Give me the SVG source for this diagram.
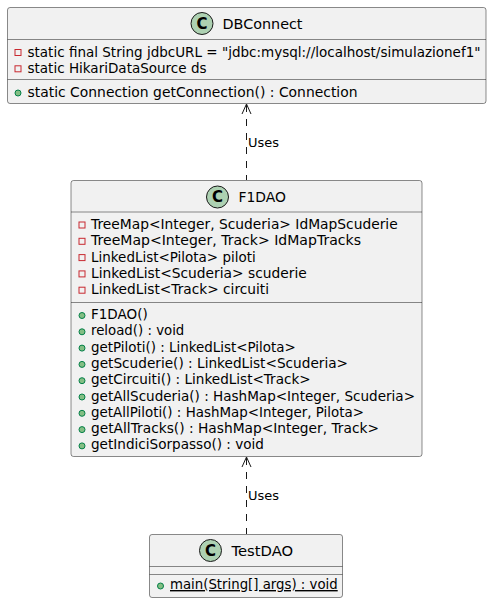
<svg xmlns="http://www.w3.org/2000/svg" width="492" height="604" viewBox="0 0 492 604">
<defs>
<style>
.box{fill:#F1F1F1;stroke:#181818;stroke-width:0.5}
.sep{stroke:#181818;stroke-width:0.5}
.circ{fill:#ADD1B2;stroke:#181818;stroke-width:1}
.cl{font-family:"DejaVu Sans",sans-serif;font-size:15px;font-weight:bold;fill:#000;text-anchor:middle}
.title{font-family:"DejaVu Sans",sans-serif;font-size:14px;fill:#000}
.mem{font-family:"DejaVu Sans",sans-serif;font-size:14px;fill:#000}
.lbl{font-family:"DejaVu Sans",sans-serif;font-size:13px;fill:#000}
.priv{fill:none;stroke:#C82930;stroke-width:1}
.pub{fill:#84BE84;stroke:#038048;stroke-width:1}
.edge{stroke:#181818;stroke-width:1;fill:none;stroke-dasharray:7,7}
.head{stroke:#181818;stroke-width:1;fill:none}
</style>
</defs>
<g id="DBConnect">
<rect class="box" x="7.5" y="7.5" width="478.5" height="96" rx="2.5"/>
<circle class="circ" cx="202" cy="23.5" r="11"/>
<text class="cl" x="202" y="28.8">C</text>
<text class="title" x="222.5" y="28.5" textLength="80" lengthAdjust="spacingAndGlyphs">DBConnect</text>
<line class="sep" x1="7.5" y1="39.5" x2="486" y2="39.5"/>
<rect class="priv" x="15" y="49.5" width="6" height="6"/>
<text class="mem" x="27.5" y="56.5" style="font-size:13.3px" textLength="453" lengthAdjust="spacingAndGlyphs">static final String jdbcURL = "jdbc:mysql://localhost/simulazionef1"</text>
<rect class="priv" x="15" y="65.8" width="6" height="6"/>
<text class="mem" x="27.5" y="72.8" textLength="179" lengthAdjust="spacingAndGlyphs">static HikariDataSource ds</text>
<line class="sep" x1="7.5" y1="79.5" x2="486" y2="79.5"/>
<circle class="pub" cx="18" cy="93" r="3"/>
<text class="mem" x="27.5" y="96.5" textLength="330" lengthAdjust="spacingAndGlyphs">static Connection getConnection() : Connection</text>
</g>
<g id="F1DAO">
<rect class="box" x="71" y="180.5" width="351" height="276" rx="2.5"/>
<circle class="circ" cx="217.5" cy="197" r="11"/>
<text class="cl" x="217.5" y="202.3">C</text>
<text class="title" x="238.5" y="201.8" textLength="47.5" lengthAdjust="spacingAndGlyphs">F1DAO</text>
<line class="sep" x1="71" y1="212" x2="422" y2="212"/>
<rect class="priv" x="79" y="222" width="6" height="6"/>
<text class="mem" x="91" y="229" textLength="306.7" lengthAdjust="spacingAndGlyphs">TreeMap&lt;Integer, Scuderia&gt; IdMapScuderie</text>
<rect class="priv" x="79" y="238.3" width="6" height="6"/>
<text class="mem" x="91" y="245.3" textLength="270" lengthAdjust="spacingAndGlyphs">TreeMap&lt;Integer, Track&gt; IdMapTracks</text>
<rect class="priv" x="79" y="254.6" width="6" height="6"/>
<text class="mem" x="91" y="261.6" textLength="164.7" lengthAdjust="spacingAndGlyphs">LinkedList&lt;Pilota&gt; piloti</text>
<rect class="priv" x="79" y="270.9" width="6" height="6"/>
<text class="mem" x="91" y="277.9" textLength="215.7" lengthAdjust="spacingAndGlyphs">LinkedList&lt;Scuderia&gt; scuderie</text>
<rect class="priv" x="79" y="287.2" width="6" height="6"/>
<text class="mem" x="91" y="294.2" textLength="178" lengthAdjust="spacingAndGlyphs">LinkedList&lt;Track&gt; circuiti</text>
<line class="sep" x1="71" y1="302.5" x2="422" y2="302.5"/>
<circle class="pub" cx="82" cy="315.5" r="3"/>
<text class="mem" x="91" y="319" textLength="56.7" lengthAdjust="spacingAndGlyphs">F1DAO()</text>
<circle class="pub" cx="82" cy="331.8" r="3"/>
<text class="mem" x="91" y="335.3" textLength="93.3" lengthAdjust="spacingAndGlyphs">reload() : void</text>
<circle class="pub" cx="82" cy="348.1" r="3"/>
<text class="mem" x="91" y="351.6" textLength="204.7" lengthAdjust="spacingAndGlyphs">getPiloti() : LinkedList&lt;Pilota&gt;</text>
<circle class="pub" cx="82" cy="364.4" r="3"/>
<text class="mem" x="91" y="367.9" textLength="257" lengthAdjust="spacingAndGlyphs">getScuderie() : LinkedList&lt;Scuderia&gt;</text>
<circle class="pub" cx="82" cy="380.7" r="3"/>
<text class="mem" x="91" y="384.2" textLength="219.7" lengthAdjust="spacingAndGlyphs">getCircuiti() : LinkedList&lt;Track&gt;</text>
<circle class="pub" cx="82" cy="397" r="3"/>
<text class="mem" x="91" y="400.5" textLength="324" lengthAdjust="spacingAndGlyphs">getAllScuderia() : HashMap&lt;Integer, Scuderia&gt;</text>
<circle class="pub" cx="82" cy="413.3" r="3"/>
<text class="mem" x="91" y="416.8" textLength="273" lengthAdjust="spacingAndGlyphs">getAllPiloti() : HashMap&lt;Integer, Pilota&gt;</text>
<circle class="pub" cx="82" cy="429.6" r="3"/>
<text class="mem" x="91" y="433.1" textLength="288" lengthAdjust="spacingAndGlyphs">getAllTracks() : HashMap&lt;Integer, Track&gt;</text>
<circle class="pub" cx="82" cy="445.9" r="3"/>
<text class="mem" x="91" y="449.4" textLength="173" lengthAdjust="spacingAndGlyphs">getIndiciSorpasso() : void</text>
</g>
<g id="TestDAO">
<rect class="box" x="149.5" y="534.5" width="193" height="63" rx="2.5"/>
<circle class="circ" cx="210.5" cy="550.5" r="11"/>
<text class="cl" x="210.5" y="555.8">C</text>
<text class="title" x="231.5" y="555.5" textLength="61.6" lengthAdjust="spacingAndGlyphs">TestDAO</text>
<line class="sep" x1="149.5" y1="566.5" x2="342.5" y2="566.5"/>
<line class="sep" x1="149.5" y1="574.5" x2="342.5" y2="574.5"/>
<circle class="pub" cx="160.5" cy="586" r="3"/>
<text class="mem" x="170" y="589" textLength="167.7" lengthAdjust="spacingAndGlyphs" text-decoration="underline">main(String[] args) : void</text>
</g>
<g id="connectors">
<line class="edge" x1="246.5" y1="105" x2="246.5" y2="180"/>
<polyline class="head" points="242,114 246.5,104 251,114"/>
<text class="lbl" x="248" y="147" textLength="31" lengthAdjust="spacingAndGlyphs">Uses</text>
<line class="edge" x1="246.5" y1="458" x2="246.5" y2="534"/>
<polyline class="head" points="242,467 246.5,457 251,467"/>
<text class="lbl" x="248" y="500" textLength="31" lengthAdjust="spacingAndGlyphs">Uses</text>
</g>
</svg>
